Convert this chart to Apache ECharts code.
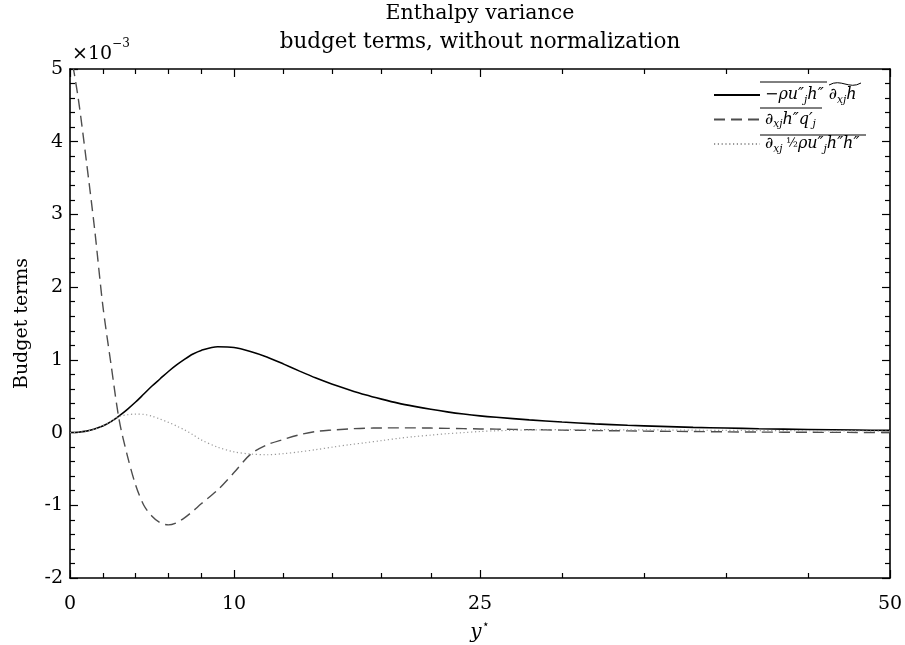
<!DOCTYPE html>
<html>
<head>
<meta charset="utf-8">
<script src="https://cdn.jsdelivr.net/npm/echarts@6/dist/echarts.min.js"></script>
<style>html,body{margin:0;padding:0;background:#fff}#c{width:905px;height:645px}</style>
</head>
<body>
<div id="c"></div>
<script>
// y* positions
const yStar = [0,0.5,1,1.5,2,2.5,3,3.5,4,4.5,5,5.5,6,6.5,7,7.5,8,9,10,11,12,13,14,15,16,17,18,19,20,21,22,23,24,25,26,28,30,32,34,36,38,40,42,45,48,50];
// budget terms (x 1e-3)
const production = [0,0.005,0.02,0.05,0.09,0.15,0.23,0.32,0.42,0.53,0.64,0.74,0.84,0.93,1.01,1.08,1.13,1.18,1.17,1.115,1.04,0.945,0.845,0.75,0.665,0.59,0.52,0.46,0.405,0.36,0.32,0.285,0.255,0.23,0.21,0.175,0.145,0.12,0.1,0.085,0.072,0.062,0.053,0.043,0.035,0.03];
const diffusion = [5.28,4.6,3.73,2.8,1.75,0.94,0.17,-0.32,-0.72,-1.0,-1.15,-1.24,-1.27,-1.24,-1.17,-1.08,-0.98,-0.79,-0.55,-0.30,-0.17,-0.095,-0.03,0.015,0.035,0.05,0.06,0.063,0.065,0.065,0.062,0.058,0.054,0.05,0.047,0.04,0.034,0.028,0.023,0.018,0.014,0.01,0.007,0.004,0.002,0.0];
const transport = [0,0.005,0.02,0.05,0.09,0.15,0.22,0.245,0.255,0.25,0.225,0.185,0.14,0.09,0.035,-0.03,-0.10,-0.2,-0.265,-0.295,-0.305,-0.29,-0.265,-0.235,-0.2,-0.168,-0.14,-0.11,-0.08,-0.055,-0.035,-0.015,0.0,0.015,0.025,0.035,0.04,0.04,0.038,0.036,0.033,0.03,0.028,0.025,0.022,0.02];
// axis ticks
const xMajorTicks = [0,10,25,50];
const xMinorTicks = [2,4,6,8,13,16,19,22,30,35,40,45];
const yMin = -2, yMax = 5, yStep = 1;

const FONT = 'DejaVu Serif';
const pairs = arr => yStar.map((x,i)=>[x,arr[i]]);

const chart = echarts.init(document.getElementById('c'), null, {renderer:'canvas'});

function xAxisDef(pos, ticks, len, showLine, showLabel){
  return {
    type:'value', position:pos, min:0, max:50,
    axisLine:{show:showLine, onZero:false, lineStyle:{color:'#000', width:1.6}},
    axisTick:{show:true, inside:true, length:len, customValues:ticks, lineStyle:{color:'#000', width:1.2}},
    axisLabel:{show:showLabel, customValues:xMajorTicks, color:'#000', fontFamily:FONT, fontSize:19, margin:17},
    splitLine:{show:false}
  };
}
function yAxisDef(pos, showLabel){
  return {
    type:'value', position:pos, min:yMin, max:yMax, interval:yStep,
    axisLine:{show:true, onZero:false, lineStyle:{color:'#000', width:1.6}},
    axisTick:{show:true, inside:true, length:8, lineStyle:{color:'#000', width:1.2}},
    minorTick:{show:true, splitNumber:5, length:5, lineStyle:{color:'#000', width:1.2}},
    axisLabel:{show:showLabel, color:'#000', fontFamily:FONT, fontSize:19, margin:7},
    splitLine:{show:false}
  };
}

const xa0 = xAxisDef('bottom', xMajorTicks, 8, true, true);
xa0.name = '{i|y}{s|⋆}';
xa0.nameLocation = 'middle';
xa0.nameGap = 41;
xa0.nameTextStyle = {rich:{i:{fontFamily:FONT, fontStyle:'italic', fontSize:20, color:'#000', lineHeight:24, verticalAlign:'bottom'}, s:{fontFamily:FONT, fontSize:12, color:'#000', lineHeight:24, verticalAlign:'top'}}};

const ya0 = yAxisDef('left', true);
ya0.name = 'Budget terms';
ya0.nameLocation = 'middle';
ya0.nameGap = 38;
ya0.nameTextStyle = {fontFamily:FONT, fontSize:19, color:'#000'};

const rich = {
  n:{fontFamily:FONT, fontStyle:'italic', fontSize:16, color:'#000', lineHeight:21, verticalAlign:'middle'},
  s:{fontFamily:FONT, fontStyle:'italic', fontSize:10.5, color:'#000', lineHeight:21, verticalAlign:'bottom'},
  f:{fontFamily:FONT, fontSize:12, color:'#000', lineHeight:21, verticalAlign:'middle'}
};
const legendText = {
  production:'{n|−ρu″}{s|j}{n|h″ ∂}{s|xj}{n|h}',
  diffusion:'{n|∂}{s|xj}{n|h″q′}{s|j}',
  transport:'{n|∂}{s|xj}{f| ½}{n|ρu″}{s|j}{n|h″h″}'
};

chart.setOption({
  animation:false,
  backgroundColor:'#fff',
  grid:{left:70, right:15, top:69, bottom:67, containLabel:false, outerBoundsMode:'none'},
  xAxis:[
    xa0,
    xAxisDef('bottom', xMinorTicks, 5, false, false),
    xAxisDef('top', xMajorTicks, 8, true, false),
    xAxisDef('top', xMinorTicks, 5, false, false)
  ],
  yAxis:[ya0, yAxisDef('right', false)],
  legend:{
    orient:'vertical', left:708, top:82, itemWidth:46, itemHeight:12, itemGap:6,
    itemStyle:{opacity:0},
    formatter:name=>legendText[name],
    textStyle:{rich:rich},
    data:['production','diffusion','transport']
  },
  series:[
    {name:'production', type:'line', data:pairs(production), smooth:0.3, symbol:'none', xAxisIndex:0, yAxisIndex:0,
     lineStyle:{color:'#000', width:1.6, type:'solid'}, itemStyle:{color:'#000'}},
    {name:'diffusion', type:'line', data:pairs(diffusion), smooth:0.3, symbol:'none', xAxisIndex:0, yAxisIndex:0,
     lineStyle:{color:'#4d4d4d', width:1.4, type:[11,6]}, itemStyle:{color:'#4d4d4d'}},
    {name:'transport', type:'line', data:pairs(transport), smooth:0.3, symbol:'none', xAxisIndex:0, yAxisIndex:0,
     lineStyle:{color:'#999', width:1.2, type:[1.2,2.6]}, itemStyle:{color:'#999'}}
  ],
  graphic:[
    {type:'text', x:480, y:3, style:{text:'Enthalpy variance', fontFamily:FONT, fontSize:20.5, fill:'#000', textAlign:'center'}},
    {type:'text', x:480, y:31, style:{text:'budget terms, without normalization', fontFamily:FONT, fontSize:21.5, fill:'#000', textAlign:'center'}},
    {type:'text', x:72, y:38, style:{text:'{a|×10}{b|−3}', rich:{a:{fontFamily:FONT, fontSize:19, fill:'#000', lineHeight:26, verticalAlign:'bottom'}, b:{fontFamily:FONT, fontSize:12, fill:'#000', lineHeight:26, verticalAlign:'top'}}}},
    {type:'line', shape:{x1:760, y1:82, x2:827, y2:82}, style:{stroke:'#000', lineWidth:1}},
    {type:'bezierCurve', shape:{x1:829, y1:85, cpx1:841, cpy1:78, cpx2:849, cpy2:90, x2:861, y2:83}, style:{stroke:'#000', lineWidth:1, fill:null}},
    {type:'line', shape:{x1:760, y1:108, x2:822, y2:108}, style:{stroke:'#000', lineWidth:1}},
    {type:'line', shape:{x1:760, y1:135, x2:866, y2:135}, style:{stroke:'#000', lineWidth:1}}
  ]
});
</script>
</body>
</html>
